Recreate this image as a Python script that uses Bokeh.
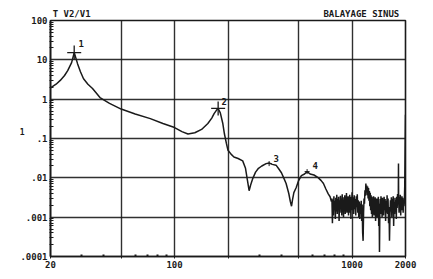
from bokeh.plotting import figure
from bokeh.models import FixedTicker, LogAxis
from bokeh.core.properties import value
from bokeh.embed import file_html
from bokeh.resources import INLINE

# ---- data ----
freq_smooth = [20, 21.5, 22.7, 24, 25, 26.3, 27.2, 28.4, 29.5, 30.7, 32.5, 34.5, 38, 43, 50, 60, 73, 86,
               100, 110, 119, 130, 142, 154, 162, 167, 172, 176, 181, 187, 191, 196, 200, 208, 216, 228,
               242, 251, 257, 263, 268, 276, 286, 297, 310, 328, 341, 355, 373, 386, 400, 412, 425, 440,
               449, 456, 462, 470, 484, 500, 518, 540, 558, 580, 610, 644, 670, 690, 712, 734, 752, 765]
ratio_smooth = [1.95, 2.4, 3.0, 4.0, 5.3, 8.5, 15.3, 8.0, 5.0, 3.3, 2.4, 1.86, 1.1, 0.78, 0.56, 0.42, 0.32, 0.24,
                0.19, 0.15, 0.13, 0.14, 0.17, 0.24, 0.33, 0.43, 0.52, 0.58, 0.45, 0.24, 0.13, 0.074, 0.05, 0.04, 0.034, 0.031,
                0.027, 0.0175, 0.009, 0.0047, 0.0065, 0.0097, 0.014, 0.0175, 0.02, 0.023, 0.024, 0.022, 0.021, 0.017, 0.0135, 0.01, 0.0072, 0.004,
                0.0025, 0.0019, 0.0028, 0.0042, 0.0056, 0.0085, 0.0114, 0.0125, 0.0144, 0.0125, 0.0118, 0.0101, 0.0085, 0.0072, 0.0052, 0.0039, 0.0033, 0.0025]

freq_noise = [770, 775, 780, 785, 790, 795, 800, 805, 810, 815, 820, 825, 830, 835, 840, 845, 850, 855, 860, 865,
              870, 875, 880, 885, 890, 895, 900, 905, 910, 915, 920, 925, 930, 935, 940, 945, 950, 955, 960, 965,
              970, 975, 980, 985, 990, 995, 1000,
              1007, 1014, 1021, 1028, 1035, 1042, 1049, 1056, 1063, 1070, 1077, 1084, 1091, 1098, 1105, 1112, 1119,
              1126, 1133, 1140, 1147, 1154, 1161, 1168, 1175, 1182, 1189, 1196, 1203, 1210, 1217, 1224, 1231, 1238,
              1245, 1252, 1259, 1266, 1273, 1280, 1287, 1294, 1301, 1308, 1315, 1322, 1329, 1336, 1343, 1350, 1357,
              1364, 1371, 1378, 1385, 1392, 1399, 1406, 1413, 1420, 1427, 1434, 1441, 1448, 1455, 1462, 1469, 1476,
              1483, 1490, 1497,
              1505, 1515, 1525, 1535, 1545, 1555, 1565, 1575, 1585, 1595, 1605, 1615, 1625, 1635, 1645, 1655, 1665,
              1675, 1685, 1695, 1705, 1715, 1725, 1735, 1745, 1755, 1765, 1775, 1785, 1795, 1805, 1815, 1822, 1826,
              1830, 1840, 1850, 1860, 1870, 1880, 1890, 1900, 1910, 1920, 1930, 1940, 1950, 1960, 1970, 1980, 1990, 2000]
ratio_noise = [0.0030, 0.0007, 0.0028, 0.0011, 0.0034, 0.0015, 0.0026, 0.0009, 0.0031, 0.0014, 0.0037, 0.0012, 0.0029, 0.0017, 0.0033, 0.0008, 0.0027, 0.0013, 0.0035, 0.0016,
               0.0030, 0.0011, 0.0038, 0.0014, 0.0026, 0.0010, 0.0032, 0.0018, 0.0036, 0.0012, 0.0029, 0.0015, 0.0041, 0.0013, 0.0031, 0.0019, 0.0034, 0.0011, 0.0028, 0.0016,
               0.0037, 0.0013, 0.0030, 0.0009, 0.0033, 0.0017, 0.0043,
               0.0015, 0.0032, 0.0012, 0.0036, 0.0016, 0.0029, 0.0011, 0.0034, 0.0018, 0.0038, 0.0013, 0.0027, 0.0010, 0.0025, 0.0009, 0.0022, 0.0012,
               0.0026, 0.0008, 0.0021, 0.0004, 0.00025, 0.0013, 0.0030, 0.0022, 0.0048, 0.0035, 0.0072, 0.0045, 0.0064, 0.0036, 0.0060, 0.0030, 0.0055,
               0.0026, 0.0046, 0.0019, 0.0042, 0.0015, 0.0036, 0.0012, 0.0033, 0.0010, 0.0030, 0.0014, 0.0034, 0.0011, 0.0028, 0.0016, 0.0032, 0.0008,
               0.0026, 0.0012, 0.0030, 0.0010, 0.0027, 0.0015, 0.0033, 0.0006, 0.0022, 0.00013, 0.0014, 0.0029, 0.0012, 0.0034, 0.0016, 0.0028, 0.0010,
               0.0031, 0.0014, 0.0026,
               0.0011, 0.0033, 0.0015, 0.0029, 0.0008, 0.0026, 0.0013, 0.0036, 0.0012, 0.0030, 0.0007, 0.0018, 0.00025, 0.0011, 0.0027, 0.0014, 0.0032,
               0.0010, 0.0029, 0.0016, 0.0034, 0.0006, 0.0024, 0.0012, 0.0031, 0.0014, 0.0027, 0.0009, 0.0033, 0.0017, 0.0039, 0.0021, 0.0035, 0.023,
               0.0028, 0.0013, 0.0032, 0.0016, 0.0037, 0.0011, 0.0029, 0.0015, 0.0034, 0.0018, 0.0031, 0.0013, 0.0028, 0.0019, 0.0024, 0.006, 0.05, 0.4]

peak_freq = [27.2, 176, 341, 558]
peak_ratio = [15.3, 0.58, 0.023, 0.0144]
peak_labels = ["1", "2", "3", "4"]

x_ticks = [20, 50, 100, 200, 500, 1000, 2000]
x_tick_labels = ["20", "", "100", "", "", "1000", "2000"]
x_minor_ticks = [30, 40, 60, 70, 80, 90, 300, 400, 600, 700, 800, 900]
y_ticks = [0.0001, 0.001, 0.01, 0.1, 1, 10, 100]
y_tick_labels = [".0001", ".001", ".01", ".1", "1", "10", "100"]
y_minor_ticks = [k * d for d in [0.0001, 0.001, 0.01, 0.1, 1, 10] for k in range(2, 10)]

# header texts, placed along the top edge at these frequencies
header_freq = [26.3, 1128]
header_texts = ["T V2/V1", "BALAYAGE SINUS"]
# stray scanner mark "1" just above the ".1" label
stray_ratio = [0.15]
stray_texts = ["1"]

INK = "#1a1a1a"
FONT = "DejaVu Sans Mono"

p = figure(width=433, height=279, x_axis_type="log", y_axis_type="log",
           x_range=(20, 2000), y_range=(0.0001, 100),
           output_backend="svg", toolbar_location=None,
           min_border_left=50, min_border_right=28, min_border_top=20, min_border_bottom=23)
p.background_fill_color = "white"
p.border_fill_color = "white"
p.outline_line_color = INK
p.outline_line_width = 1.6

p.xaxis.ticker = FixedTicker(ticks=x_ticks, minor_ticks=x_minor_ticks)
p.yaxis.ticker = FixedTicker(ticks=y_ticks, minor_ticks=y_minor_ticks)
p.xaxis.major_label_overrides = dict(zip(x_ticks, x_tick_labels))
p.yaxis.major_label_overrides = dict(zip(y_ticks, y_tick_labels))

for ax in (p.xaxis, p.yaxis):
    ax.axis_line_color = INK
    ax.axis_line_width = 1.6
    ax.major_tick_line_color = INK
    ax.minor_tick_line_color = INK
    ax.major_label_text_font = FONT
    ax.major_label_text_font_style = "bold"
    ax.major_label_text_font_size = "9px"
    ax.major_label_text_color = INK

p.xaxis.major_tick_in = 0
p.xaxis.major_tick_out = 2
p.xaxis.minor_tick_in = 2
p.xaxis.minor_tick_out = 0
p.xaxis.minor_tick_line_width = 2
p.xaxis.major_label_standoff = 2

p.yaxis.major_tick_in = 0
p.yaxis.major_tick_out = 0
p.yaxis.minor_tick_in = 3
p.yaxis.minor_tick_out = 1
p.yaxis.major_label_standoff = 2

# header axis along the top edge (text only)
top = LogAxis(ticker=FixedTicker(ticks=header_freq, minor_ticks=[]),
              major_label_overrides=dict(zip(header_freq, header_texts)),
              axis_line_color=None, major_tick_line_color=None, minor_tick_line_color=None,
              major_label_standoff=-4, major_label_text_font=FONT, major_label_text_font_style="bold",
              major_label_text_font_size="9px", major_label_text_color=INK)
p.add_layout(top, "above")

# outer left axis carrying the stray "1"
stray = LogAxis(ticker=FixedTicker(ticks=stray_ratio, minor_ticks=[]),
                major_label_overrides=dict(zip(stray_ratio, stray_texts)),
                axis_line_color=None, major_tick_line_color=None, minor_tick_line_color=None,
                major_label_standoff=-13, major_label_text_font=FONT, major_label_text_font_style="bold",
                major_label_text_font_size="8px", major_label_text_color=INK)
p.add_layout(stray, "left")

p.grid.grid_line_color = INK
p.grid.grid_line_width = 1.4
p.grid.grid_line_alpha = 0.9
p.xgrid.ticker = FixedTicker(ticks=x_ticks)
p.ygrid.ticker = FixedTicker(ticks=y_ticks)

p.line(freq_smooth + freq_noise, ratio_smooth + ratio_noise, line_color=INK, line_width=1.5)

p.scatter(peak_freq[:2], peak_ratio[:2], marker="cross", size=14, line_color=INK, line_width=1.3)
p.scatter(peak_freq[2:], peak_ratio[2:], marker="cross", size=5, line_color=INK, line_width=1)
p.text(peak_freq, peak_ratio, text=peak_labels, x_offset=[7, 6, 7, 8], y_offset=[-9, -7, -5, -6],
       text_font=value(FONT), text_font_style="bold", text_font_size="9px", text_color=INK,
       text_baseline="middle", text_align="center")

open("out.html", "w").write(file_html(p, INLINE))
